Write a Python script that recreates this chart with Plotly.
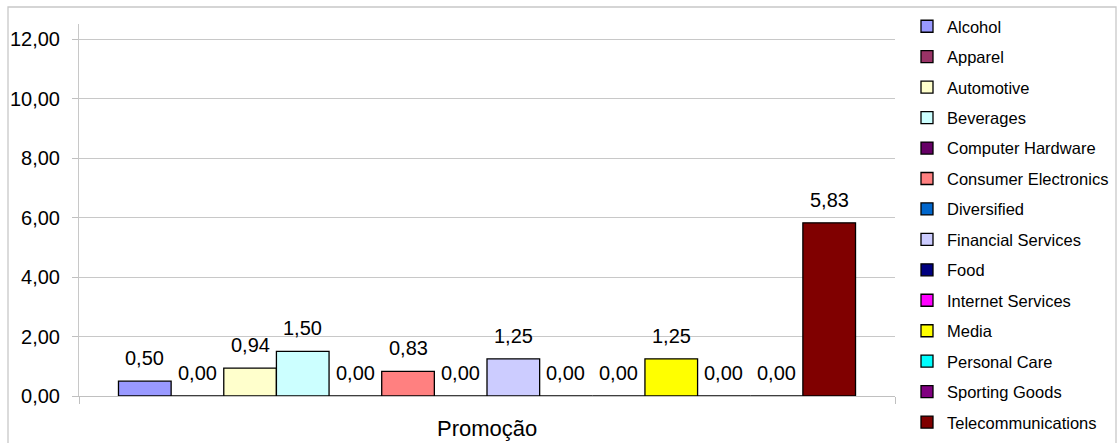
import plotly.graph_objects as go

# Sector values for the single "Promoção" category
category = "Promoção"
sectors = [
    "Alcohol", "Apparel", "Automotive", "Beverages", "Computer Hardware",
    "Consumer Electronics", "Diversified", "Financial Services", "Food",
    "Internet Services", "Media", "Personal Care", "Sporting Goods",
    "Telecommunications",
]
values = [0.50, 0.00, 0.94, 1.50, 0.00, 0.83, 0.00, 1.25, 0.00, 0.00, 1.25, 0.00, 0.00, 5.83]
colors = [
    "#9999FF", "#993366", "#FFFFCC", "#CCFFFF", "#660066", "#FF8080", "#0066CC",
    "#CCCCFF", "#000080", "#FF00FF", "#FFFF00", "#00FFFF", "#800080", "#800000",
]
y_ticks = [0, 2, 4, 6, 8, 10, 12]

FONT = "Liberation Sans, Arial, sans-serif"
W, H = 1120, 443
ML, MR, MT, MB = 79, 225, 24, 47
PW, PH = W - ML - MR, H - MT - MB

n = len(sectors)
gap_ratio = 1.5  # gap between groups relative to one bar width
bargap = gap_ratio / (n + gap_ratio)

fig = go.Figure()
for name, val, col in zip(sectors, values, colors):
    fig.add_trace(go.Bar(
        x=[category], y=[val], name=name, legendgroup=name,
        marker=dict(color=col, line=dict(color="#000000", width=1.3)),
    ))

# value labels above each bar, positioned through the category axis index
for i, val in enumerate(values):
    xc = -0.5 + (gap_ratio / 2 + i + 0.5) / (n + gap_ratio)
    fig.add_annotation(
        x=xc, y=val, xref="x", yref="y", text=f"{val:.2f}".replace(".", ","),
        showarrow=False, yanchor="middle", yshift=23,
        font=dict(family=FONT, size=20, color="#000000"),
    )

def px_x(p):
    return (p - ML) / PW

def px_y(p):
    return (H - MB - p) / PH

# category label under the axis
fig.add_annotation(
    x=0.5, y=px_y(428), xref="paper", yref="paper", text=category,
    showarrow=False, xanchor="center", yanchor="middle",
    font=dict(family=FONT, size=22, color="#000000"),
)

# outer chart frame
fig.add_shape(type="rect", xref="paper", yref="paper",
              x0=px_x(8), x1=px_x(1116), y0=px_y(460), y1=px_y(7),
              line=dict(color="#c8c8c8", width=1.3), fillcolor="rgba(0,0,0,0)", layer="below")

fig.update_layout(
    width=W, height=H,
    margin=dict(l=ML, r=MR, t=MT, b=MB, pad=0, autoexpand=False),
    paper_bgcolor="#ffffff", plot_bgcolor="#ffffff",
    barmode="group", bargap=bargap, bargroupgap=0,
    separators=",.",
    font=dict(family=FONT, size=20, color="#000000"),
    showlegend=True,
    legend=dict(
        x=px_x(907), y=px_y(9), xanchor="left", yanchor="top",
        maxheight=440,
        font=dict(family=FONT, size=16.5, color="#000000"),
        tracegroupgap=6, bgcolor="rgba(0,0,0,0)", borderwidth=0,
    ),
    xaxis=dict(
        type="category", tickson="boundaries", ticks="outside", ticklen=7,
        tickcolor="#c0c0c0", showline=True, linecolor="#c0c0c0", linewidth=1,
        showgrid=False, showticklabels=False,
        range=[-0.5, 0.5], fixedrange=True,
    ),
    yaxis=dict(
        range=[0, 12.52], tickvals=y_ticks, tickformat=".2f",
        ticks="outside", ticklen=6, tickcolor="#c0c0c0",
        showline=True, linecolor="#c8c8c8", linewidth=1,
        showgrid=True, gridcolor="#c8c8c8", gridwidth=1, zeroline=False,
        ticklabelstandoff=8,
        tickfont=dict(family=FONT, size=20, color="#000000"),
    ),
)

fig.write_html("out.html")
